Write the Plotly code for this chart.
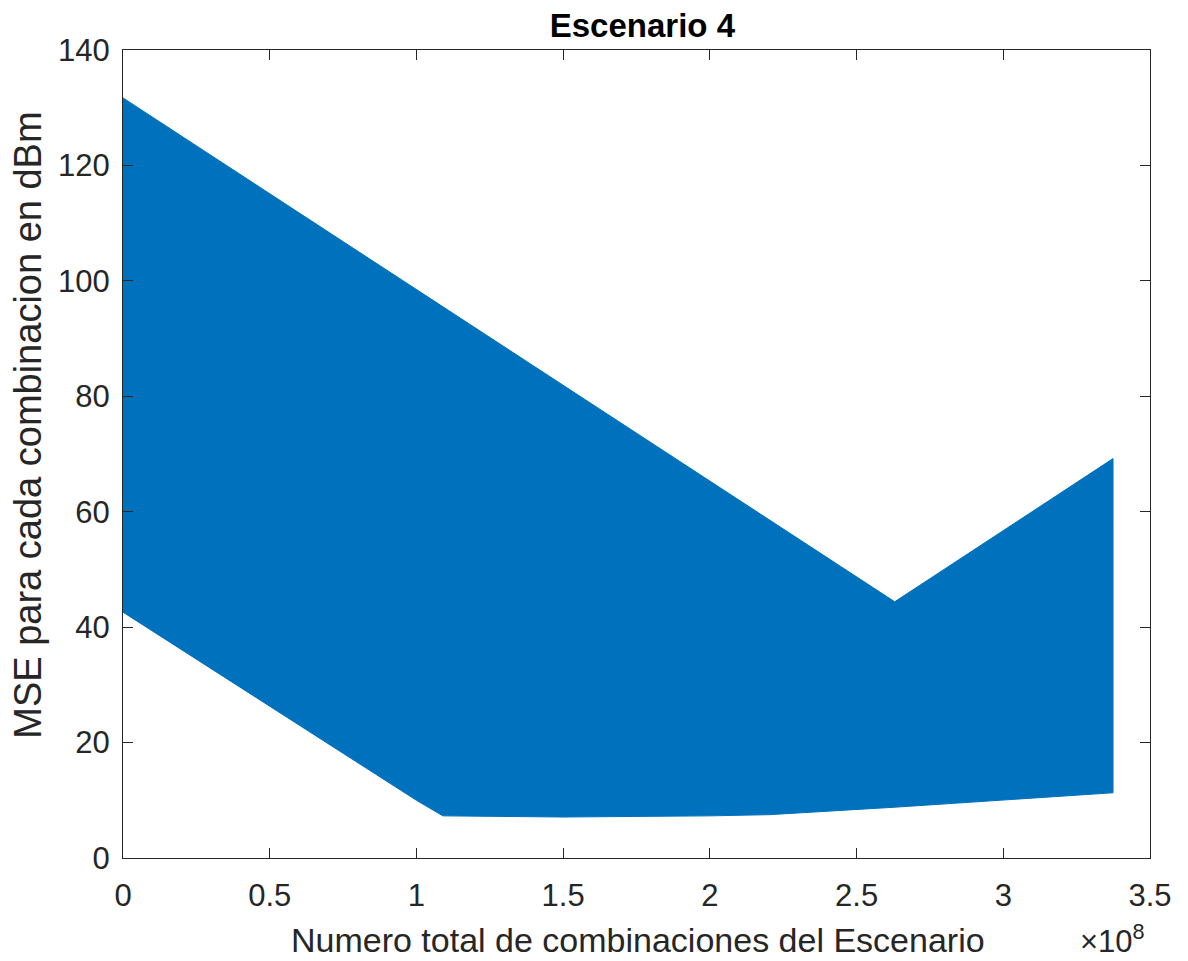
import plotly.graph_objects as go

# Envelope of the (very dense) MSE series
upper_x = [0.0, 2.63e8, 3.374e8]
upper_y = [131.7, 44.4, 69.2]
lower_x = [0.0, 1.0e8, 1.09e8, 1.5e8, 2.0e8, 2.2e8, 2.63e8, 3.374e8]
lower_y = [42.6, 10.0, 7.3, 7.1, 7.3, 7.5, 8.8, 11.3]

x_ticks = [0, 0.5e8, 1e8, 1.5e8, 2e8, 2.5e8, 3e8, 3.5e8]
x_ticklabels = ["0", "0.5", "1", "1.5", "2", "2.5", "3", "3.5"]
y_ticks = [0, 20, 40, 60, 80, 100, 120, 140]

poly_x = upper_x + lower_x[::-1]
poly_y = upper_y + lower_y[::-1]

FONT = "Liberation Sans, Arial, Helvetica, sans-serif"
TXT = "#262626"
BLUE = "#0072BD"

fig = go.Figure()
fig.add_trace(go.Scatter(
    x=poly_x, y=poly_y, mode="lines", fill="toself",
    fillcolor=BLUE, line=dict(color=BLUE, width=1),
    hoverinfo="skip", showlegend=False,
))

axis_common = dict(
    showgrid=False, zeroline=False, showline=True, linecolor=TXT, linewidth=1.3,
    mirror="ticks", ticks="inside", ticklen=10, tickwidth=1.3, tickcolor=TXT,
    tickfont=dict(family=FONT, size=31, color=TXT),
)

fig.update_layout(
    width=1188, height=961,
    margin=dict(l=115, r=46, t=42, b=111),
    paper_bgcolor="white", plot_bgcolor="white",
    title=dict(text="<b>Escenario 4</b>", x=0.534, xanchor="center",
               xref="container", yref="container", y=0.982, yanchor="middle",
               font=dict(family=FONT, size=33, color="black")),
    xaxis=dict(range=[0, 3.5e8], tickvals=x_ticks, ticktext=x_ticklabels,
               ticklabelstandoff=10, **axis_common),
    yaxis=dict(range=[0, 140], tickvals=y_ticks, ticklabelstandoff=6,
               **axis_common),
    annotations=[
        dict(text="Numero total de combinaciones del Escenario", xref="paper", yref="paper",
             x=0.5015, y=-0.1015, xanchor="center", yanchor="middle", showarrow=False,
             font=dict(family=FONT, size=34, color=TXT)),
        dict(text="MSE para cada combinacion en dBm", xref="paper", yref="paper",
             x=-0.0925, y=0.535, xanchor="center", yanchor="middle", showarrow=False,
             textangle=-90, font=dict(family=FONT, size=38, color=TXT)),
        dict(text="×10<sup>8</sup>", xref="paper", yref="paper", x=0.997, y=-0.1,
             xanchor="right", yanchor="middle", showarrow=False,
             font=dict(family=FONT, size=31, color=TXT)),
    ],
)

fig.write_html("out.html")
